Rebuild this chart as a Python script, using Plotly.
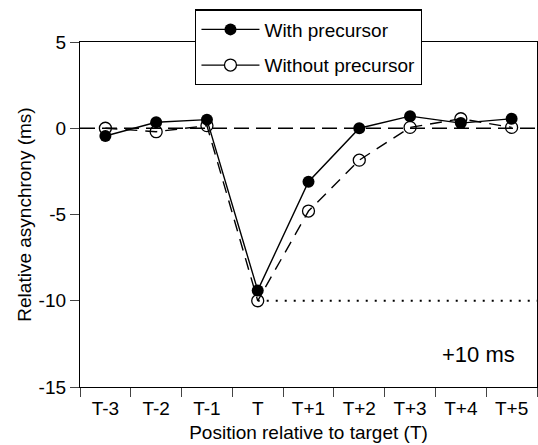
import plotly.graph_objects as go

positions = ["T-3", "T-2", "T-1", "T", "T+1", "T+2", "T+3", "T+4", "T+5"]
with_precursor = [-0.45, 0.35, 0.5, -9.4, -3.1, 0.0, 0.7, 0.3, 0.55]
without_precursor = [0.0, -0.2, 0.15, -10.0, -4.8, -1.85, 0.05, 0.55, 0.05]
reference_start = "T"
reference_level = -10
y_ticks = [5, 0, -5, -10, -15]
y_ticktext = ["5", "0", "-5", "-10", "-15"]

FONT = "Liberation Sans, Arial, sans-serif"
fig = go.Figure()

fig.add_trace(go.Scatter(x=positions, y=without_precursor, mode="lines+markers",
                         line=dict(color="black", width=1.4, dash="12px,8px"),
                         marker=dict(symbol="circle-open", size=12, color="black",
                                     line=dict(width=1.3, color="black")),
                         showlegend=False, cliponaxis=False))
fig.add_trace(go.Scatter(x=positions, y=with_precursor, mode="lines+markers",
                         line=dict(color="black", width=1.4),
                         marker=dict(symbol="circle", size=12, color="black"),
                         showlegend=False, cliponaxis=False))

# legend entries (solid lines as in the reference)
fig.add_trace(go.Scatter(x=[None], y=[None], mode="lines+markers", name="With precursor",
                         line=dict(color="black", width=1.4),
                         marker=dict(symbol="circle", size=12, color="black"),
                         legendgroup="a"))
fig.add_trace(go.Scatter(x=[None], y=[None], mode="lines+markers", name="Without precursor",
                         line=dict(color="black", width=1.4),
                         marker=dict(symbol="circle", size=12, color="white",
                                     line=dict(width=1.3, color="black")),
                         legendgroup="b"))

# dashed zero line across the plot
fig.add_shape(type="line", xref="paper", yref="y", x0=0, x1=1, y0=0, y1=0,
              line=dict(color="black", width=1.5, dash="15px,7px"), layer="below")
# dotted reference line at -10 from T to the right edge
fig.add_shape(type="line", xref="x", yref="y",
              x0=positions.index(reference_start), x1=len(positions) - 0.5,
              y0=reference_level, y1=reference_level,
              line=dict(color="black", width=2, dash="2px,7px"), layer="below")

fig.add_annotation(text="+10 ms", xref="paper", yref="paper", x=0.871, y=0.093,
                   xanchor="center", yanchor="middle",
                   showarrow=False, font=dict(size=22, family=FONT, color="black"))

fig.update_layout(
    width=538, height=445,
    margin=dict(l=80, r=1, t=42, b=58),
    paper_bgcolor="white", plot_bgcolor="white",
    font=dict(family=FONT, size=19, color="black"),
    legend=dict(x=0.252, y=1.095, xanchor="left", yanchor="top",
                bordercolor="black", borderwidth=1.3, bgcolor="white",
                traceorder="grouped", tracegroupgap=8, itemwidth=58,
                font=dict(size=19, family=FONT)),
)
fig.update_xaxes(type="category", categoryorder="array", categoryarray=positions,
                 range=[-0.5, 8.5], tickson="boundaries", ticks="outside", ticklen=9,
                 tickwidth=1, showline=True, linecolor="black", linewidth=1.3, mirror=True,
                 showgrid=False, zeroline=False, ticklabelstandoff=4,
                 title=dict(text="Position relative to target (T)", standoff=7,
                            font=dict(size=19)),
                 tickfont=dict(size=19))
fig.update_yaxes(range=[-15, 5], tickvals=y_ticks, ticktext=y_ticktext,
                 ticks="outside", ticklen=9, tickwidth=1,
                 showline=True, linecolor="black", linewidth=1.3, mirror=True,
                 showgrid=False, zeroline=False,
                 title=dict(text="Relative asynchrony (ms)", standoff=1,
                            font=dict(size=19)),
                 tickfont=dict(size=19))

fig.write_html("out.html")
